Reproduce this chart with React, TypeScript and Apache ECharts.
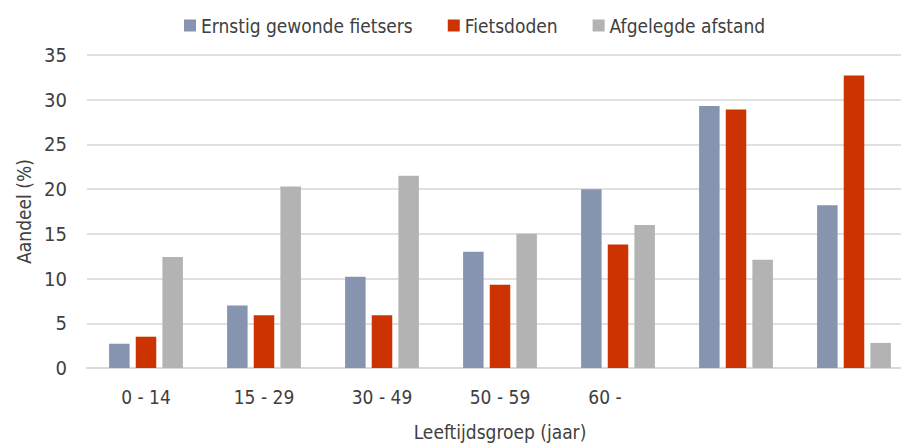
import React, { useEffect, useRef } from "react";
import * as echarts from "echarts";

const categories = ["0 - 14", "15 - 29", "30 - 49", "50 - 59", "60 -", "", ""];
const seriesNames = ["Ernstig gewonde fietsers", "Fietsdoden", "Afgelegde afstand"];
const ernstigGewond = [2.7, 7.0, 10.2, 13.0, 20.0, 29.3, 18.2];
const fietsdoden = [3.5, 5.9, 5.9, 9.3, 13.8, 28.9, 32.7];
const afgelegdeAfstand = [12.4, 20.3, 21.5, 15.0, 16.0, 12.1, 2.8];
const yTicks = { min: 0, max: 35, interval: 5 };
const colors = ["#8794AF", "#CC3300", "#B3B3B3"];

const FONT = "'DejaVu Sans Condensed', 'Liberation Sans Narrow', Roboto, sans-serif";
const TEXT = "#404040";

export default function App() {
  const ref = useRef<HTMLDivElement>(null);
  useEffect(() => {
    if (!ref.current) return;
    const chart = echarts.init(ref.current, null, { renderer: "svg" });
    const values = [ernstigGewond, fietsdoden, afgelegdeAfstand];
    chart.setOption({
      animation: false,
      textStyle: { fontFamily: FONT, color: TEXT },
      color: colors,
      legend: {
        left: 179,
        top: 11,
        itemWidth: 12,
        itemHeight: 12,
        itemGap: 35,
        icon: "rect",
        textStyle: { fontFamily: FONT, fontSize: 19, color: TEXT },
        data: seriesNames,
      },
      grid: { left: 87, top: 55, right: 17, bottom: 74, containLabel: false },
      xAxis: {
        type: "category",
        data: categories.map((c) =>
          c === "60 -" ? { value: c, textStyle: { padding: [0, 26, 0, 0] } } : c
        ),
        axisTick: { show: false },
        axisLine: { show: true, lineStyle: { color: "#D9D9D9", width: 2 } },
        axisLabel: { fontFamily: FONT, fontSize: 19, color: TEXT, margin: 19, interval: 0 },
        name: "Leeftijdsgroep (jaar)",
        nameLocation: "middle",
        nameGap: 54,
        nameTextStyle: { fontFamily: FONT, fontSize: 19, color: TEXT },
      },
      yAxis: {
        type: "value",
        min: yTicks.min,
        max: yTicks.max,
        interval: yTicks.interval,
        axisLine: { show: false },
        axisTick: { show: false },
        splitLine: { lineStyle: { color: "#E0E0E0", width: 2 } },
        axisLabel: { fontFamily: FONT, fontSize: 20, color: TEXT, margin: 20 },
        name: "Aandeel (%)",
        nameLocation: "middle",
        nameGap: 52,
        nameTextStyle: { fontFamily: FONT, fontSize: 19, color: TEXT },
      },
      series: seriesNames.map((name, i) => ({
        name,
        type: "bar",
        data: values[i],
        barWidth: 20.5,
        barGap: "30%",
        itemStyle: { color: colors[i] },
      })),
    });
    return () => chart.dispose();
  }, []);
  return (
    <div style={{ position: "fixed", left: 0, top: 0, width: 901, height: 446, overflow: "hidden", background: "#fff" }}>
      <div ref={ref} style={{ width: 930, height: 446 }} />
    </div>
  );
}
